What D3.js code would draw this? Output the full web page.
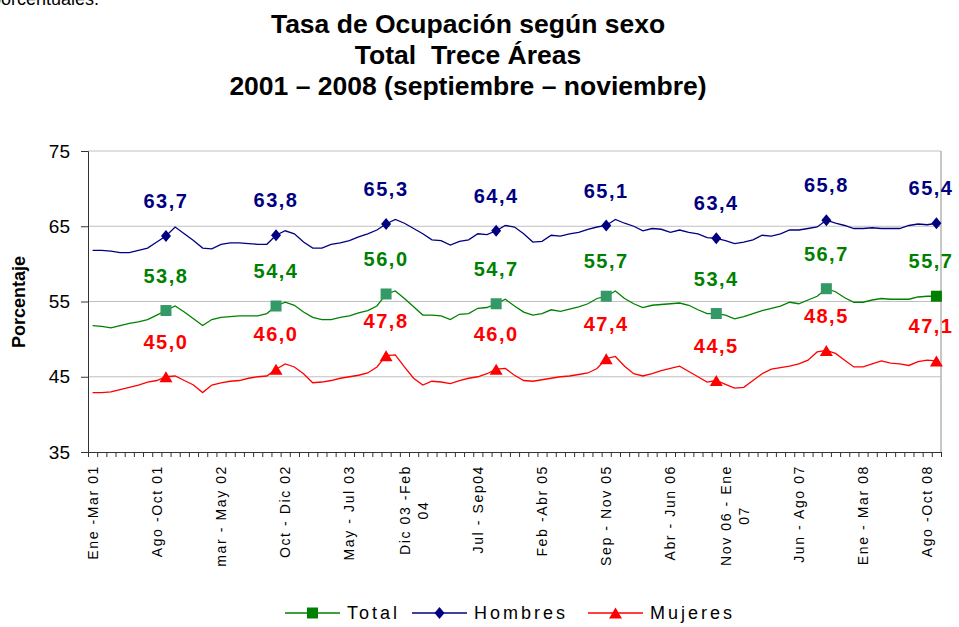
<!DOCTYPE html>
<html>
<head>
<meta charset="utf-8">
<script src="https://cdn.jsdelivr.net/npm/d3@7"></script>
<style>
  html, body { margin: 0; padding: 0; background: #fff; }
  svg { display: block; font-family: "Liberation Sans", Arial, sans-serif; }
</style>
</head>
<body>
<svg id="chart" width="959" height="627"></svg>
<script>
// ---------------- DATA ----------------
const periods = [
  "Ene-Mar 01","Feb-Abr 01","Mar-May 01","Abr-Jun 01","May-Jul 01","Jun-Ago 01","Jul-Sep 01","Ago-Oct 01","Sep-Nov 01","Oct-Dic 01","Nov 01-Ene 02","Dic 01-Feb 02",
  "Ene-Mar 02","Feb-Abr 02","Mar-May 02","Abr-Jun 02","May-Jul 02","Jun-Ago 02","Jul-Sep 02","Ago-Oct 02","Sep-Nov 02","Oct-Dic 02","Nov 02-Ene 03","Dic 02-Feb 03",
  "Ene-Mar 03","Feb-Abr 03","Mar-May 03","Abr-Jun 03","May-Jul 03","Jun-Ago 03","Jul-Sep 03","Ago-Oct 03","Sep-Nov 03","Oct-Dic 03","Nov 03-Ene 04","Dic 03-Feb 04",
  "Ene-Mar 04","Feb-Abr 04","Mar-May 04","Abr-Jun 04","May-Jul 04","Jun-Ago 04","Jul-Sep 04","Ago-Oct 04","Sep-Nov 04","Oct-Dic 04","Nov 04-Ene 05","Dic 04-Feb 05",
  "Ene-Mar 05","Feb-Abr 05","Mar-May 05","Abr-Jun 05","May-Jul 05","Jun-Ago 05","Jul-Sep 05","Ago-Oct 05","Sep-Nov 05","Oct-Dic 05","Nov 05-Ene 06","Dic 05-Feb 06",
  "Ene-Mar 06","Feb-Abr 06","Mar-May 06","Abr-Jun 06","May-Jul 06","Jun-Ago 06","Jul-Sep 06","Ago-Oct 06","Sep-Nov 06","Oct-Dic 06","Nov 06-Ene 07","Dic 06-Feb 07",
  "Ene-Mar 07","Feb-Abr 07","Mar-May 07","Abr-Jun 07","May-Jul 07","Jun-Ago 07","Jul-Sep 07","Ago-Oct 07","Sep-Nov 07","Oct-Dic 07","Nov 07-Ene 08","Dic 07-Feb 08",
  "Ene-Mar 08","Feb-Abr 08","Mar-May 08","Abr-Jun 08","May-Jul 08","Jun-Ago 08","Jul-Sep 08","Ago-Oct 08","Sep-Nov 08"
];

// tick labels shown on the x axis (period index -> text, "\n" = line break)
const tickIndex  = [0, 7, 14, 21, 28, 35, 42, 49, 56, 63, 70, 77, 84, 91];
const tickLabels = ["Ene -Mar 01","Ago -Oct 01","mar - May 02","Oct - Dic 02","May - Jul 03","Dic 03 -Feb\n04",
                    "Jul - Sep04","Feb -Abr 05","Sep - Nov 05","Abr - Jun 06","Nov 06 - Ene\n07","Jun - Ago 07",
                    "Ene - Mar 08","Ago -Oct 08"];

const hombres = [
  61.8,61.8,61.7,61.5,61.5,61.8,62.1,62.9,63.7,64.9,64.0,63.1,
  62.1,62.0,62.6,62.8,62.8,62.7,62.6,62.6,63.8,64.4,64.0,62.9,
  62.1,62.1,62.6,62.8,63.1,63.6,64.0,64.5,65.3,65.9,65.4,64.7,
  64.0,63.2,63.1,62.5,63.0,63.2,64.0,63.9,64.4,65.1,64.9,64.0,
  62.9,63.0,63.8,63.7,64.0,64.2,64.6,64.9,65.1,65.9,65.4,65.0,
  64.4,64.7,64.6,64.2,64.5,64.2,64.0,63.5,63.4,63.1,62.7,62.9,
  63.2,63.8,63.7,64.0,64.5,64.5,64.7,64.9,65.8,65.4,65.1,64.7,
  64.7,64.8,64.7,64.7,64.7,65.1,65.3,65.2,65.4
];
const total = [
  51.8,51.7,51.5,51.8,52.1,52.3,52.6,53.2,53.8,54.4,53.6,52.7,
  51.8,52.6,52.9,53.0,53.1,53.1,53.1,53.4,54.4,54.9,54.5,53.6,
  52.9,52.6,52.6,52.9,53.1,53.5,53.8,54.4,56.0,56.4,55.4,54.3,
  53.2,53.2,53.1,52.6,53.3,53.4,54.1,54.2,54.7,55.3,54.4,53.6,
  53.2,53.4,53.9,53.7,54.0,54.3,54.7,55.4,55.7,56.4,55.4,54.7,
  54.2,54.5,54.6,54.7,54.8,54.5,53.9,53.4,53.4,53.2,52.7,53.0,
  53.4,53.8,54.1,54.4,54.9,54.7,55.2,55.7,56.7,56.3,55.5,54.9,
  54.9,55.2,55.4,55.3,55.3,55.3,55.6,55.7,55.7
];
const mujeres = [
  42.9,42.9,43.0,43.3,43.6,43.9,44.3,44.5,45.0,45.1,44.5,43.9,
  42.9,43.9,44.2,44.4,44.5,44.8,45.0,45.1,46.0,46.7,46.3,45.4,
  44.2,44.3,44.5,44.8,45.0,45.2,45.5,46.3,47.8,47.9,46.3,44.8,
  43.9,44.4,44.3,44.1,44.5,44.8,45.0,45.4,46.0,46.1,45.2,44.5,
  44.4,44.6,44.8,45.0,45.1,45.3,45.5,46.1,47.4,47.7,46.4,45.4,
  45.1,45.4,45.8,46.1,46.4,45.7,45.0,44.3,44.5,44.0,43.5,43.6,
  44.5,45.4,46.0,46.2,46.4,46.7,47.2,48.3,48.5,48.1,47.2,46.3,
  46.3,46.7,47.1,46.8,46.7,46.5,47.0,47.2,47.1
];

// periods with a marker and value label (Sep-Nov of each year)
const markerIndex = [8, 20, 32, 44, 56, 68, 80, 92];
const yTicks = [35, 45, 55, 65, 75];

const titleLines = ["Tasa de Ocupación según sexo", "Total  Trece Áreas", "2001 – 2008 (septiembre – noviembre)"];

// ---------------- CHART ----------------
const svg = d3.select("#chart");
const L = 88, R = 941, T = 151, B = 452;

const xb = d3.scaleLinear().domain([0, periods.length]).range([L, R]);
const xc = i => xb(i + 0.5);
const y = d3.scaleLinear().domain([35, 75]).range([B, T]);

// text cut off at the top edge (as in the source page)
svg.append("text").attr("x", -9).attr("y", 5).attr("font-size", 18).attr("fill", "#000").text("porcentuales.");

// title
svg.append("g").selectAll("text").data(titleLines).join("text")
  .attr("x", 468).attr("y", (d, i) => 33 + i * 31)
  .attr("text-anchor", "middle").attr("font-size", 26.5).attr("font-weight", "bold")
  .attr("fill", "#000").style("white-space", "pre").text(d => d);

// gridlines
svg.append("g").selectAll("line").data(yTicks.filter(v => v > 35)).join("line")
  .attr("x1", L).attr("x2", R).attr("y1", d => y(d)).attr("y2", d => y(d))
  .attr("stroke", "#c0c0c0").attr("stroke-width", 1);
// right border
svg.append("line").attr("x1", R).attr("x2", R).attr("y1", T).attr("y2", B)
  .attr("stroke", "#b4b4b4").attr("stroke-width", 1.5);

// y axis
const yAxis = svg.append("g").attr("transform", `translate(${L},0)`)
  .call(d3.axisLeft(y).tickValues(yTicks).tickSize(7).tickPadding(11).tickFormat(d3.format("d")));
yAxis.selectAll("text").attr("font-size", 19).attr("fill", "#000")
  .attr("font-family", "Liberation Sans, Arial, sans-serif");
yAxis.selectAll("line, path").attr("stroke", "#333");

// x axis (ticks at category boundaries)
const xAxis = svg.append("g").attr("transform", `translate(0,${B})`)
  .call(d3.axisBottom(xb).tickValues(d3.range(periods.length + 1)).tickSize(5).tickFormat(""));
xAxis.selectAll("line, path").attr("stroke", "#333");

// x tick labels (rotated)
const xl = svg.append("g");
tickIndex.forEach((idx, k) => {
  const lines = tickLabels[k].split("\n");
  const g = xl.append("g").attr("transform", `translate(${xc(idx)},465) rotate(-90)`);
  const texts = lines.map((ln, j) => g.append("text")
    .attr("y", (j - (lines.length - 1) / 2) * 18)
    .attr("dy", "0.36em")
    .attr("font-size", 14).attr("letter-spacing", 1.6)
    .attr("text-anchor", "middle").attr("fill", "#000").text(ln));
  const maxLen = d3.max(texts, t => t.node().getComputedTextLength());
  texts.forEach(t => t.attr("x", -maxLen / 2));
});

// y axis title
svg.append("text").attr("transform", "translate(25,302) rotate(-90)")
  .attr("text-anchor", "middle").attr("font-size", 18).attr("font-weight", "bold")
  .attr("fill", "#000").text("Porcentaje");

// series
const series = [
  { name: "Total",   values: total,   color: "#008000", shape: "square" },
  { name: "Hombres", values: hombres, color: "#000080", shape: "diamond" },
  { name: "Mujeres", values: mujeres, color: "#ff0000", shape: "triangle" }
];

const shapePath = {
  square:   "M-5.5,-5.5h11v11h-11z",
  diamond:  "M0,-6L5,0L0,6L-5,0z",
  triangle: "M0,-5.5L6.5,5.5L-6.5,5.5z"
};

const line = d3.line().x((d, i) => xc(i)).y(d => y(d));

series.forEach(s => {
  svg.append("path").datum(s.values).attr("d", line)
    .attr("fill", "none").attr("stroke", s.color).attr("stroke-width", 1.3);

  svg.append("g").selectAll("path").data(markerIndex).join("path")
    .attr("transform", i => `translate(${xc(i)},${y(s.values[i])})`)
    .attr("d", shapePath[s.shape])
    .attr("fill", (i, k) => s.shape === "square" ? (k === markerIndex.length - 1 ? "#008000" : "#339966") : s.color);

  svg.append("g").selectAll("text").data(markerIndex).join("text")
    .attr("x", i => Math.min(xc(i), 931))
    .attr("y", i => y(s.values[i]) - 35)
    .attr("dy", "0.36em")
    .attr("text-anchor", "middle").attr("font-size", 20).attr("font-weight", "bold")
    .attr("letter-spacing", 1.5).attr("fill", s.color)
    .text(i => s.values[i].toFixed(1).replace(".", ","));
});

// legend
const legendX = [285, 412, 588];
const lg = svg.append("g");
series.forEach((s, k) => {
  const x0 = legendX[k], ly = 613;
  lg.append("line").attr("x1", x0).attr("x2", x0 + 55).attr("y1", ly).attr("y2", ly)
    .attr("stroke", s.color).attr("stroke-width", 1.5);
  lg.append("path").attr("transform", `translate(${x0 + 27.5},${ly})`)
    .attr("d", shapePath[s.shape]).attr("fill", s.color);
  lg.append("text").attr("x", x0 + 62).attr("y", ly).attr("dy", "0.36em")
    .attr("font-size", 18).attr("letter-spacing", 3).attr("fill", "#000").text(s.name);
});
</script>
</body>
</html>
